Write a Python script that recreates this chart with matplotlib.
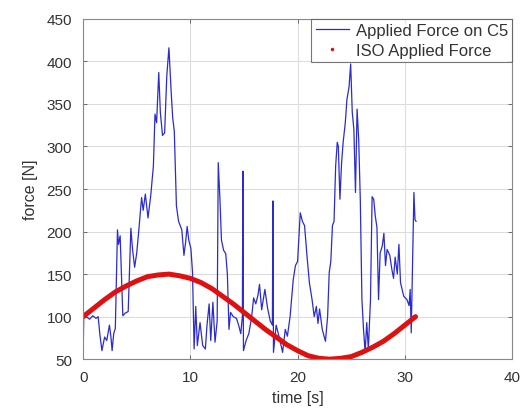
import numpy as np
import matplotlib.pyplot as plt
from matplotlib.lines import Line2D

plt.rcParams.update({
    'font.family': 'Liberation Sans', 'font.size': 11,
    'xtick.direction': 'in', 'ytick.direction': 'in',
    'xtick.top': True, 'ytick.right': True,
})

# measured force on C5 (time [s], force [N])
t_c5 = [0.00, 0.05, 0.3, 0.6, 0.9, 1.2, 1.4, 1.55, 1.75, 2.0, 2.2, 2.45, 2.6, 2.7,
        2.85, 3.0, 3.2, 3.3, 3.45, 3.7, 3.9, 4.2, 4.45, 4.6, 4.8, 5.0, 5.2, 5.45,
        5.6, 5.8, 6.05, 6.3, 6.55, 6.7, 6.85, 7.05, 7.2, 7.4, 7.6, 7.8, 8.0, 8.2,
        8.35, 8.5, 8.7, 8.9, 9.2, 9.4, 9.55, 9.7, 9.85, 10.05, 10.2, 10.35, 10.5,
        10.65, 10.9, 11.15, 11.4, 11.55, 11.75, 11.9, 12.1, 12.3, 12.5, 12.6,
        12.75, 12.9, 13.1, 13.3, 13.45, 13.6, 13.75, 14.0, 14.3, 14.5, 14.7,
        14.85, 14.9, 14.95, 15.2, 15.45, 15.7, 15.9, 16.1, 16.3, 16.45, 16.65,
        16.95, 17.2, 17.45, 17.65, 17.7, 17.75, 18.0, 18.3, 18.6, 18.85, 19.05,
        19.3, 19.6, 19.8, 20.0, 20.25, 20.45, 20.65, 20.9, 21.1, 21.35, 21.55,
        21.75, 21.9, 22.05, 22.3, 22.6, 22.8, 22.95, 23.1, 23.25, 23.4, 23.55,
        23.7, 23.8, 23.95, 24.1, 24.25, 24.45, 24.6, 24.8, 24.95, 25.1, 25.25,
        25.4, 25.55, 25.7, 25.85, 26.0, 26.15, 26.3, 26.45, 26.6, 26.8, 26.95,
        27.1, 27.25, 27.4, 27.55, 27.7, 27.9, 28.05, 28.2, 28.35, 28.6, 28.8,
        28.95, 29.1, 29.3, 29.45, 29.6, 29.9, 30.2, 30.4, 30.5, 30.6, 30.75,
        30.85, 30.95, 31.05]
f_c5 = [55, 98, 100, 97, 101, 98, 100, 80, 60, 76, 72, 90, 75, 60,
        80, 86, 202, 185, 195, 101, 104, 106, 204, 180, 158, 175, 203, 240,
        225, 244, 216, 242, 277, 338, 328, 387, 340, 313, 316, 383, 416, 366,
        334, 318, 230, 212, 202, 172, 187, 206, 190, 180, 152, 62, 112,
        66, 93, 66, 62, 90, 115, 72, 117, 70, 95, 281,
        240, 190, 178, 174, 150, 85, 105, 100, 98, 90, 80,
        100, 271, 60, 72, 80, 98, 122, 115, 125, 138, 108,
        132, 110, 95, 90, 236, 58, 90, 75, 58, 85, 77,
        100, 144, 160, 165, 222, 212, 207, 168, 140, 120, 100,
        112, 92, 109, 85, 71, 100, 152, 165, 207, 212, 277,
        305, 300, 238, 280, 305, 328, 355, 370, 397, 340, 320,
        246, 344, 308, 237, 120, 85, 58, 93, 62, 120, 241,
        238, 218, 205, 120, 175, 183, 198, 160, 179, 172, 155,
        145, 170, 150, 185, 140, 124, 120, 113, 132, 81, 183,
        246, 214, 212]

# ISO reference force profile
t_iso = list(range(0, 32))
f_iso = [100, 110, 120, 129, 136, 142, 147, 149, 150, 148, 145, 140, 133, 124,
         115, 105, 95, 85, 76, 67, 60, 54, 51, 50, 51, 53, 58, 64, 71, 80, 90, 100]

fig = plt.figure(figsize=(5.23, 4.14), dpi=100)
ax = fig.add_axes([0.159, 0.130, 0.820, 0.822])

ax.plot(t_c5, f_c5, color='#2b2bd0', linewidth=0.9)
ax.plot(t_iso, f_iso, color='#e01010', linewidth=3.6, solid_capstyle='round')

ax.set_xlim(0, 40)
ax.set_ylim(50, 450)
ax.set_xticks([0, 10, 20, 30, 40])
ax.set_yticks(np.arange(50, 451, 50))
ax.grid(True, color='#dcdcdc', linewidth=0.8)
ax.tick_params(length=3, width=0.6, color='#555555', labelcolor='#333333', pad=8)
for s in ax.spines.values():
    s.set_color('#888888')
    s.set_linewidth(0.8)

ax.set_xlabel('time [s]', fontsize=11.5, color='#333333', labelpad=4)
ax.set_ylabel('force [N]', fontsize=11.5, color='#333333', labelpad=6)

handles = [Line2D([], [], color='#2b2bd0', linewidth=0.9),
           Line2D([], [], color='#e01010', marker='.', markersize=3, linestyle='none')]
leg = ax.legend(handles, ['Applied Force on C5', 'ISO Applied Force'],
                loc='upper right', fontsize=12, frameon=True, fancybox=False,
                borderaxespad=0, handlelength=2.0, handletextpad=0.4,
                labelspacing=0.3, borderpad=0.25, labelcolor='#333333')
leg.get_frame().set_edgecolor('#555555')
leg.get_frame().set_linewidth(0.8)

fig.savefig('out.png', dpi=100)
